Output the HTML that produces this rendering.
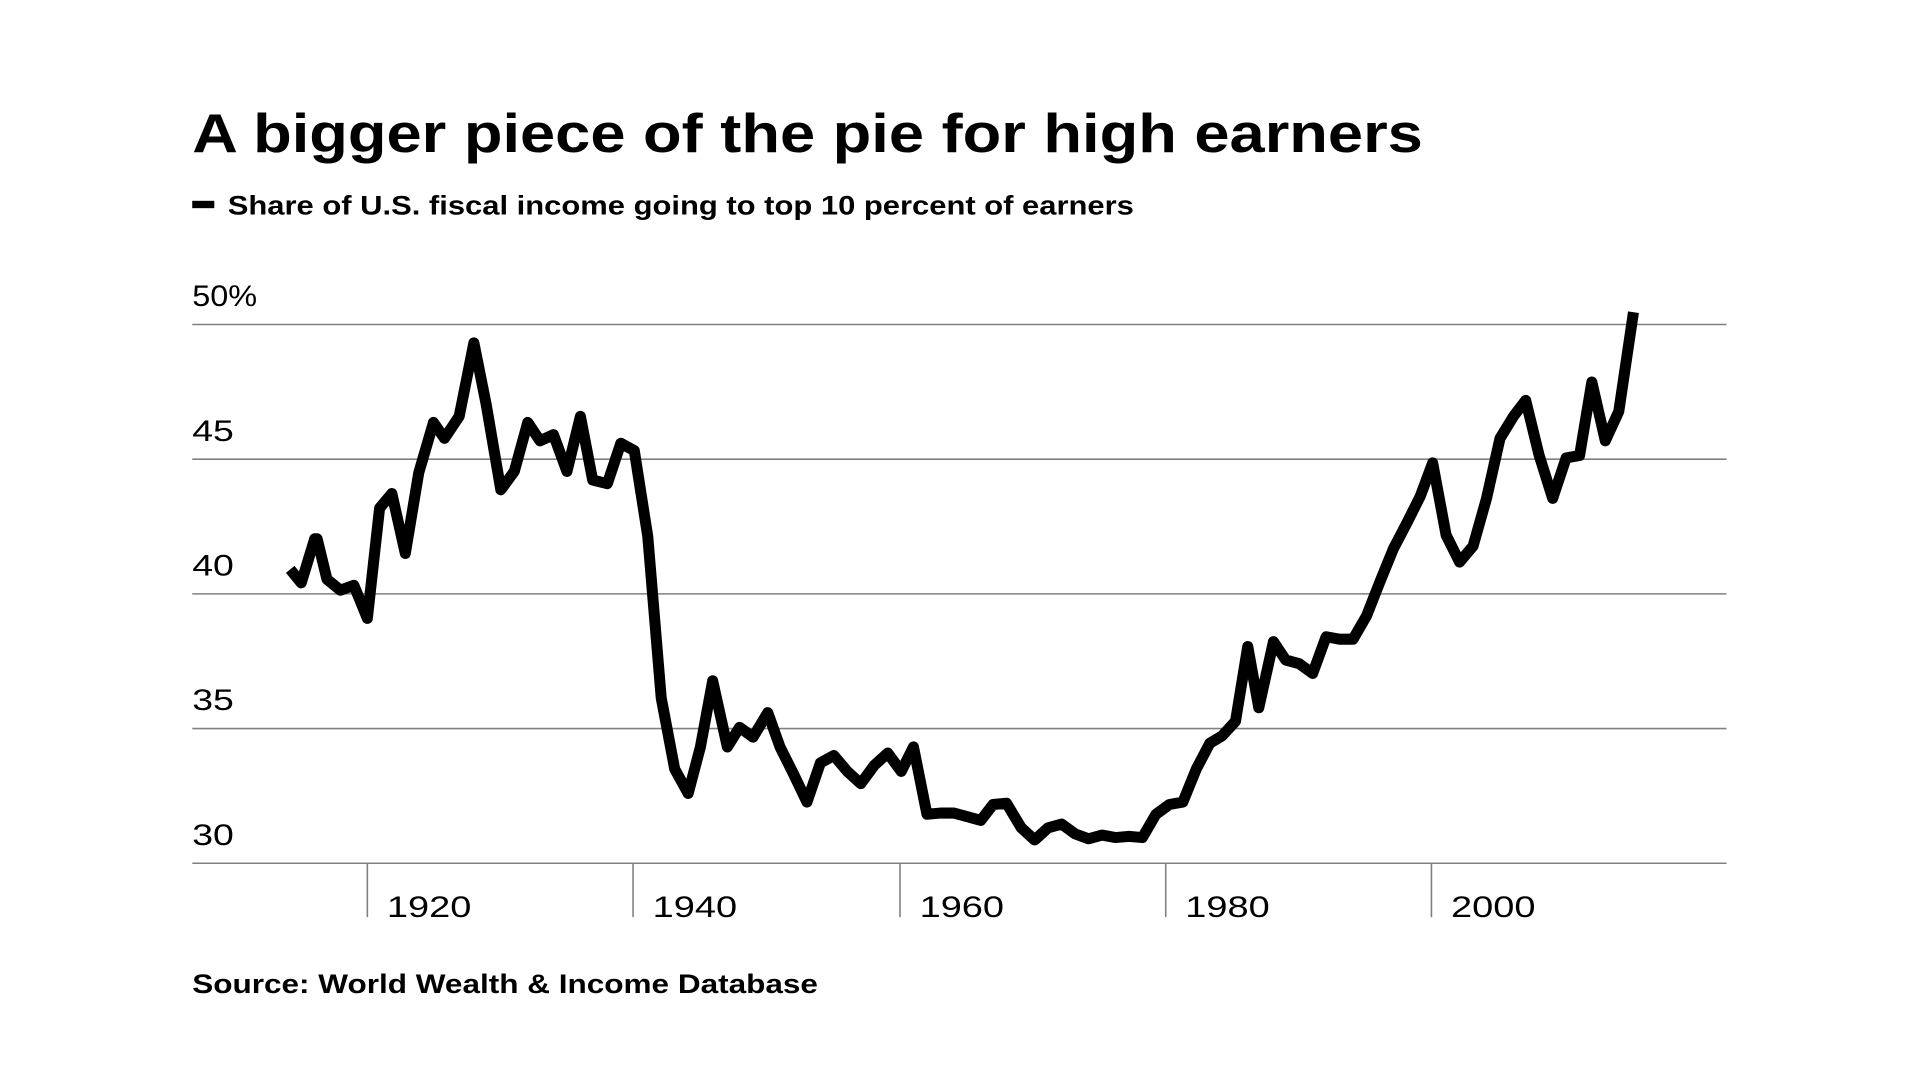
<!DOCTYPE html>
<html><head><meta charset="utf-8"><style>
html,body{margin:0;padding:0;background:#fff;width:1920px;height:1080px;overflow:hidden}
svg{display:block}
text{font-family:"Liberation Sans",sans-serif;fill:#000}
</style></head><body>
<svg width="1920" height="1080" viewBox="0 0 1568 882" preserveAspectRatio="none">
<text x="157" y="124" font-size="45" font-weight="bold" textLength="1005" lengthAdjust="spacingAndGlyphs">A bigger piece of the pie for high earners</text>
<rect x="157" y="164" width="18" height="6" fill="#000"/>
<text x="186" y="175" font-size="22" font-weight="bold" textLength="740" lengthAdjust="spacingAndGlyphs">Share of U.S. fiscal income going to top 10 percent of earners</text>
<g stroke="#808080" stroke-width="1.3">
<line x1="157" y1="265" x2="1410" y2="265"/>
<line x1="157" y1="375" x2="1410" y2="375"/>
<line x1="157" y1="485" x2="1410" y2="485"/>
<line x1="157" y1="595" x2="1410" y2="595"/>
<line x1="157" y1="705" x2="1410" y2="705"/>
<line x1="300" y1="705" x2="300" y2="749"/>
<line x1="517" y1="705" x2="517" y2="749"/>
<line x1="735" y1="705" x2="735" y2="749"/>
<line x1="952" y1="705" x2="952" y2="749"/>
<line x1="1169" y1="705" x2="1169" y2="749"/>
</g>
<g font-size="24">
<text x="157" y="250" textLength="53" lengthAdjust="spacingAndGlyphs">50%</text>
<text x="157" y="360" textLength="34" lengthAdjust="spacingAndGlyphs">45</text>
<text x="157" y="470" textLength="34" lengthAdjust="spacingAndGlyphs">40</text>
<text x="157" y="580" textLength="34" lengthAdjust="spacingAndGlyphs">35</text>
<text x="157" y="690" textLength="34" lengthAdjust="spacingAndGlyphs">30</text>
<text x="316" y="749" textLength="69" lengthAdjust="spacingAndGlyphs">1920</text>
<text x="533" y="749" textLength="69" lengthAdjust="spacingAndGlyphs">1940</text>
<text x="751" y="749" textLength="69" lengthAdjust="spacingAndGlyphs">1960</text>
<text x="968" y="749" textLength="69" lengthAdjust="spacingAndGlyphs">1980</text>
<text x="1185" y="749" textLength="69" lengthAdjust="spacingAndGlyphs">2000</text>
</g>
<polyline fill="none" stroke="#000" stroke-width="9" stroke-linejoin="round" points="237,465 246,476 257,440 259,440 267,473 278,482 289,478 300,505 310,415 320,403 331,452 342,386 354,345 363,358 375,340 387,280 397,330 409,400 420,385 431,345 441,360 452,355 463,385 474,340 484,392 496,395 507,362 518,368 529,438 540,570 551,628 562,648 572,610 582,556 594,610 604,594 615,602 627,582 637,610 648,632 659,655 670,623 681,617 692,630 703,640 714,625 725,615 736,630 746,610 757,665 768,664 779,664 790,667 801,670 811,657 822,656 834,676 845,686 856,676 867,673 878,681 889,685 900,682 911,684 922,683 933,684 944,665 955,657 966,655 977,628 988,607 998,601 1009,589 1019,528 1028,578 1040,524 1050,539 1061,542 1072,550 1083,520 1094,522 1105,522 1116,503 1127,475 1138,448 1149,427 1160,405 1170,378 1181,437 1192,459 1203,446 1214,407 1225,358 1236,340 1246,327 1257,372 1268,407 1279,374 1290,372 1300,312 1311,360 1322,336 1334,255"/>
<text x="157" y="811" font-size="22" font-weight="bold" textLength="511" lengthAdjust="spacingAndGlyphs">Source: World Wealth &amp; Income Database</text>
</svg>
</body></html>
